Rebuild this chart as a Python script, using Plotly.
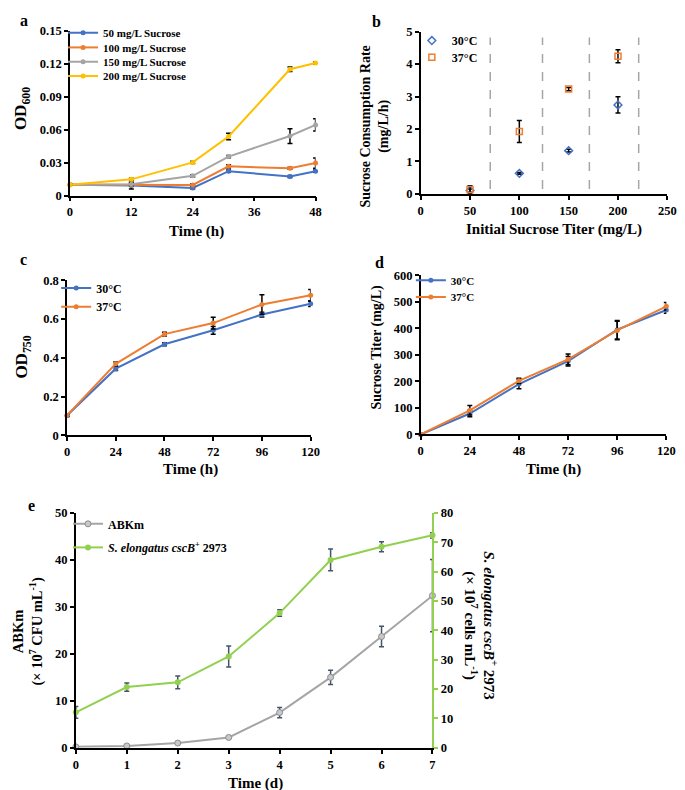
import plotly.graph_objects as go

W, H = 685, 790

# ---------------- data ----------------
# panel a
time_a = [0, 12, 24, 31, 43, 48]
od600_50 = [0.010, 0.0092, 0.0071, 0.0223, 0.0175, 0.0223]
od600_100 = [0.010, 0.0098, 0.0098, 0.0267, 0.0250, 0.0297]
od600_150 = [0.010, 0.0104, 0.0181, 0.0356, 0.0543, 0.0644]
od600_200 = [0.010, 0.0149, 0.0303, 0.0538, 0.1150, 0.1206]
err600_50 = [0.0005, 0.003, 0.001, 0.001, 0.001, 0.001]
err600_100 = [0.0005, 0.001, 0.001, 0.0015, 0.001, 0.0046]
err600_150 = [0.0005, 0.001, 0.001, 0.001, 0.0067, 0.0055]
err600_200 = [0.0005, 0.001, 0.001, 0.003, 0.002, 0.001]
names_a = ["50 mg/L Sucrose", "100 mg/L Sucrose", "150 mg/L Sucrose", "200 mg/L Sucrose"]

# panel b
titer_b = [50, 100, 150, 200]
rate_30 = [0.10, 0.63, 1.33, 2.74]
rate_30_err = [0.05, 0.03, 0.04, 0.25]
rate_37 = [0.13, 1.92, 3.23, 4.24]
rate_37_err = [0.12, 0.34, 0.05, 0.20]
separators_b = [70.5, 123.5, 171, 221]

# panel c
time_c = [0, 24, 48, 72, 96, 120]
od750_30 = [0.103, 0.344, 0.470, 0.542, 0.623, 0.679]
od750_30_err = [0.005, 0.01, 0.008, 0.02, 0.012, 0.015]
od750_37 = [0.103, 0.369, 0.522, 0.579, 0.675, 0.722]
od750_37_err = [0.005, 0.01, 0.01, 0.03, 0.05, 0.03]

# panel d
time_d = [0, 24, 48, 72, 96, 120]
titer_30 = [0, 79, 190, 276, 395, 469]
titer_30_err = [0, 12, 18, 18, 35, 12]
titer_37 = [0, 91, 202, 283, 392, 483]
titer_37_err = [0, 18, 10, 20, 35, 14]

# panel e
days = [0, 1, 2, 3, 4, 5, 6, 7]
abkm = [0.2, 0.4, 1.0, 2.2, 7.5, 15.0, 23.7, 32.4]
abkm_err = [0.1, 0.1, 0.2, 0.2, 1.1, 1.5, 2.2, 7.7]
selong = [12.1, 20.7, 22.3, 31.1, 45.9, 64.0, 68.5, 72.4]
selong_err = [2.0, 1.4, 2.2, 3.6, 1.1, 3.7, 1.7, 0.9]

# ---------------- style ----------------
BLUE, ORANGE, GRAY, YELLOW, GREEN = "#4472C4", "#ED7D31", "#A5A5A5", "#FFC000", "#92D050"
FONT = "Liberation Serif"


def px(x):
    return x / W


def py(y):
    return 1 - y / H


fig = go.Figure()
legends = {}
leg_count = [0]


def add_legend(xpx, ypx, size):
    leg_count[0] += 1
    key = "legend" if leg_count[0] == 1 else f"legend{leg_count[0]}"
    legends[key] = dict(x=px(xpx), y=py(ypx), xanchor="left", yanchor="middle",
                        bgcolor="rgba(0,0,0,0)", borderwidth=0,
                        font=dict(family=FONT, size=size, color="black", weight="bold"),
                        itemwidth=30, tracegroupgap=0)
    return key


def line_trace(x, y, err, color, name, xa, ya, leg, ecolor="black", marker=None):
    m = marker or dict(symbol="circle", size=5, color=color)
    fig.add_trace(go.Scatter(
        x=x, y=y, mode="lines+markers", name=name, xaxis=xa, yaxis=ya,
        line=dict(color=color, width=2), marker=m, cliponaxis=False,
        error_y=dict(type="data", array=err, visible=True, color=ecolor, thickness=1.5, width=2.5),
        legend=leg, showlegend=leg is not None))


# panel a
series_a = [(od600_50, err600_50, BLUE), (od600_100, err600_100, ORANGE),
            (od600_150, err600_150, GRAY), (od600_200, err600_200, YELLOW)]
leg_y_a = [18, 33, 47.5, 62]
for (y, e, c), n, ly in zip(series_a, names_a, leg_y_a):
    line_trace(time_a, y, e, c, n, "x", "y", add_legend(53, ly, 11))

# panel b
lb1 = add_legend(408, 26, 12)
fig.add_trace(go.Scatter(x=titer_b, y=rate_30, mode="markers", name="30°C", xaxis="x2", yaxis="y2",
                         marker=dict(symbol="diamond-open", size=6, color=BLUE, line=dict(width=1.5)),
                         error_y=dict(type="data", array=rate_30_err, color="black", thickness=1.5, width=2.5),
                         legend=lb1, cliponaxis=False))
lb2 = add_legend(408, 43, 12)
fig.add_trace(go.Scatter(x=titer_b, y=rate_37, mode="markers", name="37°C", xaxis="x2", yaxis="y2",
                         marker=dict(symbol="square-open", size=6, color=ORANGE, line=dict(width=1.5)),
                         error_y=dict(type="data", array=rate_37_err, color="black", thickness=1.5, width=2.5),
                         legend=lb2, cliponaxis=False))
for s in separators_b:
    fig.add_shape(type="line", xref="x2", yref="y2", x0=s, x1=s, y0=0.15, y1=4.82,
                  line=dict(color="#A6A6A6", width=1.5, dash="dash"))

# panel c
line_trace(time_c, od750_30, od750_30_err, BLUE, "30°C", "x3", "y3", add_legend(46, 278, 12))
line_trace(time_c, od750_37, od750_37_err, ORANGE, "37°C", "x3", "y3", add_legend(46, 297, 12))

# panel d
line_trace(time_d, titer_30, titer_30_err, BLUE, "30°C", "x4", "y4", add_legend(407, 270, 11))
line_trace(time_d, titer_37, titer_37_err, ORANGE, "37°C", "x4", "y4", add_legend(407, 287, 11))

# panel e
line_trace(days, abkm, abkm_err, "#A5A5A5", "ABKm", "x5", "y5", add_legend(58, 518, 12),
           ecolor="#44546A",
           marker=dict(symbol="circle", size=6, color="#C9C9C9", line=dict(color="#8C8C8C", width=1)))
line_trace(days, selong, selong_err, GREEN, "<i>S. elongatus cscB</i><sup>+</sup> 2973", "x5", "y6",
           add_legend(58, 542, 12), ecolor="#44546A",
           marker=dict(symbol="circle", size=6, color=GREEN))

# ---------------- axes ----------------
tickfont = dict(family=FONT, size=12.5, color="black", weight="bold")


def ax(domain, rng, dtick, anchor, **kw):
    d = dict(domain=domain, range=rng, dtick=dtick, tick0=0, anchor=anchor, showgrid=False,
             zeroline=False, showline=True, linecolor="black", linewidth=1.5,
             ticks="outside", ticklen=4, tickwidth=1.5, tickcolor="black",
             tickfont=tickfont, fixedrange=True)
    d.update(kw)
    return d


layout = dict(
    width=W, height=H, margin=dict(l=0, r=0, t=0, b=0),
    plot_bgcolor="white", paper_bgcolor="white",
    font=dict(family=FONT, color="black"),
    xaxis=ax([px(60), px(310)], [0, 48], 12, "y"),
    yaxis=ax([py(184), py(16)], [0, 0.15], 0.03, "x",
             tickvals=[0, 0.03, 0.06, 0.09, 0.12, 0.15], ticktext=["0", "0.03", "0.06", "0.09", "0.12", "0.15"]),
    xaxis2=ax([px(417), px(668)], [0, 250], 50, "y2"),
    yaxis2=ax([py(182), py(17)], [0, 5], 1, "x2"),
    xaxis3=ax([px(57), px(305)], [0, 120], 24, "y3"),
    yaxis3=ax([py(428), py(270)], [0, 0.8], 0.2, "x3",
              tickvals=[0, 0.2, 0.4, 0.6, 0.8], ticktext=["0", "0.2", "0.4", "0.6", "0.8"]),
    xaxis4=ax([px(417), px(667)], [0, 120], 24, "y4"),
    yaxis4=ax([py(427), py(265)], [0, 600], 100, "x4"),
    xaxis5=ax([px(66), px(429)], [0, 7], 1, "y5"),
    yaxis5=ax([py(746), py(507)], [0, 50], 10, "x5"),
    yaxis6=ax([py(746), py(507)], [0, 80], 10, "x5", overlaying="y5", side="right",
              linecolor=GREEN, tickcolor=GREEN),
    showlegend=True,
)
layout.update(legends)

# ---------------- text ----------------
ann = []


def text(t, x, y, size, angle=0, xanchor="center", yanchor="middle"):
    ann.append(dict(text=t, x=px(x), y=py(y), xref="paper", yref="paper", showarrow=False,
                    textangle=angle, xanchor=xanchor, yanchor=yanchor,
                    font=dict(family=FONT, size=size, color="black", weight="bold")))


# panel letters
text("a", 13, 6, 16)
text("b", 372, 7, 16)
text("c", 13, 249, 16)
text("d", 375, 252, 16)
text("e", 21, 499, 16)

# axis titles
text("OD<sub>600</sub>", 12, 95, 17, -90)
text("Time (h)", 189, 220, 15)
text("Sucrose Consumption Rate<br>(mg/L/h)", 370, 114, 14, -90)
text("Initial Sucrose Titer (mg/L)", 553, 218, 15)
text("OD<sub>750</sub>", 12, 348, 17, -90)
text("Time (h)", 183, 463, 15)
text("Sucrose Titer (mg/L)", 373, 338, 14, -90)
text("Time (h)", 552, 463, 15)
text("ABKm<br>(× 10<sup>7</sup> CFU mL<sup>-1</sup>)", 17, 627, 14.5, -90)
text("<i>S. elongatus cscB</i><sup>+</sup> 2973<br>(× 10<sup>7</sup> cells mL<sup>-1</sup>)", 477, 622, 15, 90)
text("Time (d)", 249, 782, 15)

layout["annotations"] = ann
fig.update_layout(**layout)
fig.write_html("out.html")
